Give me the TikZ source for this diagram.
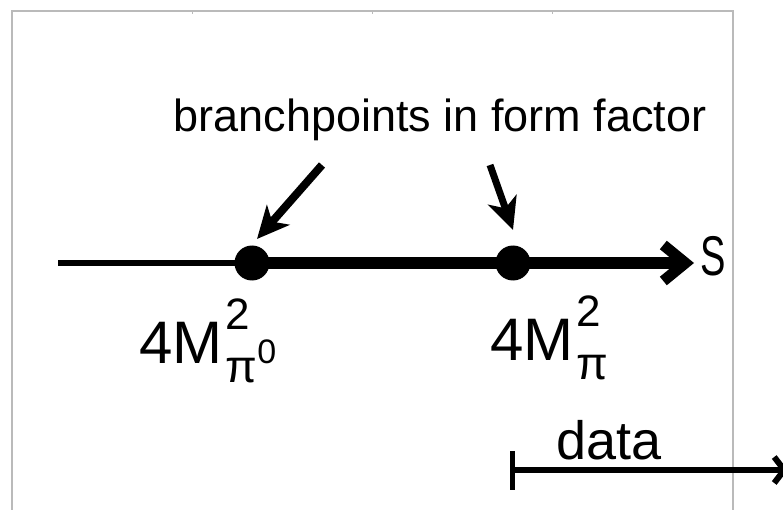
\documentclass[tikz,border=0pt]{standalone}
\usepackage{fontspec}
\setmainfont{Liberation Sans}
\usetikzlibrary{arrows.meta}

% mass label: 4M^2 with a subscript
\newcommand\fourmsq[1]{4M\hspace{3pt}\rlap{\raisebox{34pt}{\fontsize{44}{44}\selectfont 2}}\raisebox{-19pt}{\fontsize{46}{46}\selectfont #1}}

\begin{document}
\begin{tikzpicture}[x=1pt, y=-1pt,
        dot/.style={circle, fill=black, inner sep=0pt, minimum size=35pt},
        lbl/.style={inner sep=0pt, anchor=base west},
        pointer/.style={line width=8pt, -{Stealth[length=32pt, width=30pt, inset=9pt]}},
        frame/.style={draw=black!27, line width=2pt}
    ]
    \useasboundingbox (0,0) rectangle (783,510);

    % Frame
    \draw[frame] (12,510) -- (12,11) -- (733,11) -- (733,510);
    \foreach \tx in {192, 372, 552}
        \draw[frame, line width=1pt] (\tx,11) -- (\tx,14);

    % Axis with branch points
    \coordinate (axisstart) at (58,263);
    \coordinate (axisend) at (694,263);
    \node[dot] (bpneutral) at (252,263) {};
    \node[dot] (bpcharged) at (513,263) {};
    \draw[line width=5pt] (axisstart) -- (bpneutral.center);
    \draw[line width=11pt, -{Straight Barb[length=22pt, width=36pt]}] (bpneutral.center) -- (axisend);
    \node[lbl, font=\fontsize{56}{56}\selectfont] (svar) at (700,275) {\scalebox{0.68}[1]{S}};

    % Title and pointers
    \node[inner sep=0pt, anchor=base, font=\fontsize{45}{54}\selectfont] (title) at (440,132) {branchpoints in form factor};
    \coordinate (ptrneutral) at (322,165);
    \coordinate (ptrcharged) at (490,165);
    \draw[pointer] (ptrneutral) -- (257,239);
    \draw[pointer, line width=7pt] (ptrcharged) -- (513,230);

    % Threshold labels
    \node[lbl, font=\fontsize{60}{60}\selectfont] (mneutral) at (139,363)
        {\fourmsq{π\raisebox{19pt}{\fontsize{34}{34}\selectfont 0}}};
    \node[lbl, font=\fontsize{60}{60}\selectfont] (mcharged) at (490,360)
        {\fourmsq{π}};

    % Data range
    \coordinate (datastart) at (510,470);
    \coordinate (dataend) at (788,470);
    \draw[line width=6pt, {Bar[width=39pt, line width=5pt]}-{Straight Barb[length=10pt, width=26pt]}] (datastart) -- (dataend);
    \node[inner sep=0pt, anchor=base, font=\fontsize{54}{54}\selectfont] (datalbl) at (609,459) {data};
\end{tikzpicture}
\end{document}
